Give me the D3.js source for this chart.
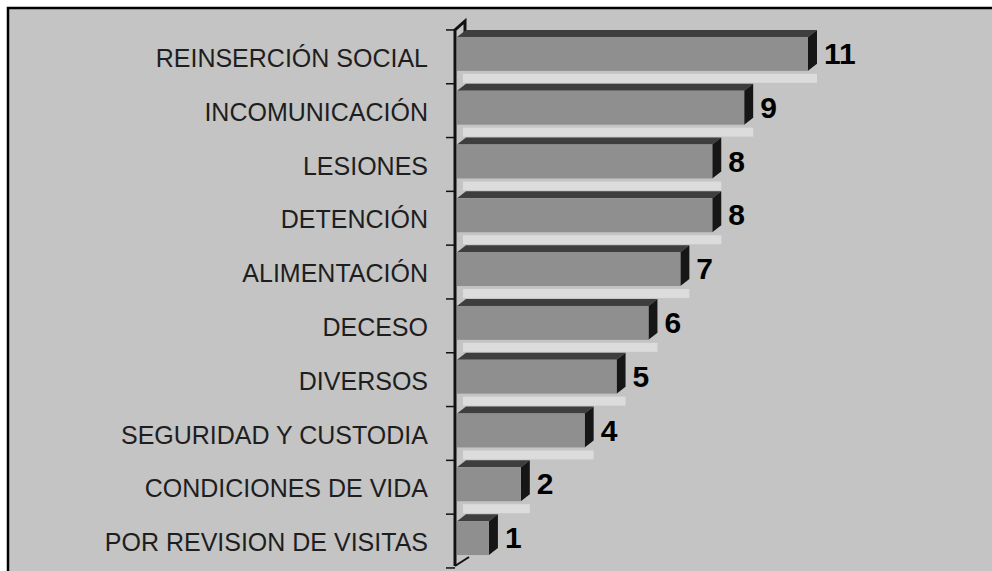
<!DOCTYPE html>
<html>
<head>
<meta charset="utf-8">
<script src="https://cdn.jsdelivr.net/npm/d3@7/dist/d3.min.js"></script>
<style>
  html, body { margin: 0; padding: 0; background: #ffffff; }
  svg { display: block; }
</style>
</head>
<body>
<svg id="chart" width="992" height="571"></svg>
<script>
// Quejas por tipo
const categories = [
  "REINSERCIÓN SOCIAL",
  "INCOMUNICACIÓN",
  "LESIONES",
  "DETENCIÓN",
  "ALIMENTACIÓN",
  "DECESO",
  "DIVERSOS",
  "SEGURIDAD Y CUSTODIA",
  "CONDICIONES DE VIDA",
  "POR REVISION DE VISITAS"
];
const values = [11, 9, 8, 8, 7, 6, 5, 4, 2, 1];
const xDomainMax = 11;

const svg = d3.select("#chart");
const W = 992, H = 571;

// 3D depth of the bars
const dx = 9, dy = -7;

// chart frame
svg.append("rect")
  .attr("x", 8).attr("y", 8)
  .attr("width", W + 10).attr("height", H + 10)
  .attr("fill", "#c4c4c4")
  .attr("stroke", "#000").attr("stroke-width", 2.5);

const x = d3.scaleLinear().domain([0, xDomainMax]).range([457, 808]);
const y = d3.scaleBand().domain(categories)
  .range([27, 565]).paddingInner(0.37).paddingOuter(0.185);
const bw = y.bandwidth();
const x0 = x(0);

const rows = categories.map((c, i) => ({ c, v: values[i] }));

// light floor strip under each bar
svg.append("g").selectAll("rect").data(rows.slice(0, -1)).join("rect")
  .attr("x", x0 + 6)
  .attr("y", d => y(d.c) + bw + 3)
  .attr("width", d => x(d.v) + dx - x0 - 6)
  .attr("height", 9)
  .attr("fill", "#dcdcdc");

// axis wall
const axis = svg.append("g").attr("stroke", "#111").attr("fill", "none");
axis.append("path")
  .attr("d", `M${x0 - 2},566 V30 L${x0 + 8},21 V33`)
  .attr("stroke-width", 3);
axis.append("path")
  .attr("d", `M${x0 - 2},566 L${x0 + 12},557`)
  .attr("stroke-width", 2);
const tickYs = categories.map(c => y(c) + dy).concat([y(categories[categories.length - 1]) + y.step() + dy]);
axis.selectAll("line.tick").data(tickYs).join("line")
  .attr("class", "tick")
  .attr("x1", x0 - 11).attr("x2", x0 - 2)
  .attr("y1", d => d).attr("y2", d => d)
  .attr("stroke-width", 1.5);

// bars
const bars = svg.append("g").selectAll("g").data(rows).join("g");

// top face
bars.append("path")
  .attr("d", d => {
    const yt = y(d.c), xe = x(d.v);
    return `M${x0},${yt} L${x0 + dx},${yt + dy} L${xe + dx},${yt + dy} L${xe},${yt} Z`;
  })
  .attr("fill", "#3e3e3e");

// side face
bars.append("path")
  .attr("d", d => {
    const yt = y(d.c), xe = x(d.v);
    return `M${xe},${yt} L${xe + dx},${yt + dy} L${xe + dx},${yt + bw + dy} L${xe},${yt + bw} Z`;
  })
  .attr("fill", "#161616");

// front face
bars.append("rect")
  .attr("x", x0)
  .attr("y", d => y(d.c))
  .attr("width", d => x(d.v) - x0)
  .attr("height", bw)
  .attr("fill", "#8f8f8f");

// value labels
bars.append("text")
  .attr("x", d => x(d.v) + dx + 7)
  .attr("y", d => y(d.c) + bw / 2 + 10)
  .attr("font-family", "'Liberation Sans', Arial, sans-serif")
  .attr("font-weight", "bold")
  .attr("font-size", 30)
  .attr("fill", "#000")
  .text(d => d.v);

// category labels
svg.append("g").selectAll("text").data(rows).join("text")
  .attr("x", 428)
  .attr("y", d => y(d.c) + bw / 2 + 13)
  .attr("text-anchor", "end")
  .attr("font-family", "'Liberation Sans', Arial, sans-serif")
  .attr("font-size", 25)
  .attr("fill", "#1e1e1e")
  .text(d => d.c);
</script>
</body>
</html>
